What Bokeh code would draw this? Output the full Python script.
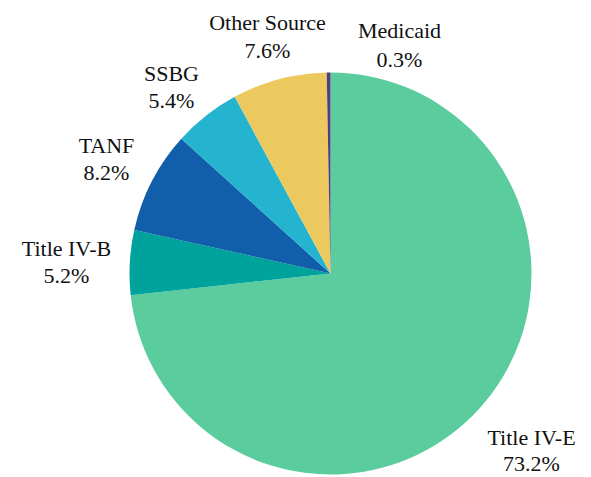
import math
from bokeh.plotting import figure
from bokeh.models import ColumnDataSource, LabelSet
from bokeh.embed import file_html
from bokeh.resources import INLINE
from bokeh.core.properties import value

# ---- data ----
categories = ["Title IV-E", "Title IV-B", "TANF", "SSBG", "Other Source", "Medicaid"]
shares = [73.2, 5.2, 8.2, 5.4, 7.6, 0.3]
colors = ["#5BCC9D", "#00A39B", "#115FAA", "#25B4D0", "#ECC95F", "#523C80"]

# ---- layout (page pixel coords) ----
W, H = 591, 477
CX_PAGE, CY_PAGE, R = 330, 273, 201
# label anchor: (x, name y, percent y) in page pixels
label_pos = {
    "Title IV-E": (531, 437, 463),
    "Title IV-B": (66, 248, 275),
    "TANF": (106, 145, 172),
    "SSBG": (171, 73, 100),
    "Other Source": (267, 22, 50),
    "Medicaid": (399, 30, 59),
}


def py(y):
    return H - y


total = sum(shares)
starts, ends = [], []
cum = 0.0
for s in shares:
    starts.append(math.pi / 2 - 2 * math.pi * cum / total)
    cum += s
    ends.append(math.pi / 2 - 2 * math.pi * cum / total)

src = ColumnDataSource(dict(cat=categories, share=shares, color=colors,
                            start=starts, end=ends))

p = figure(width=W, height=H, x_range=(0, W), y_range=(0, H),
           output_backend="svg", toolbar_location=None, min_border=0,
           x_axis_type=None, y_axis_type=None)
p.grid.visible = False
p.outline_line_color = None

p.wedge(x=CX_PAGE, y=py(CY_PAGE), radius=R, start_angle="start",
        end_angle="end", direction="clock", fill_color="color",
        line_color=None, source=src)

lx, ly, lt = [], [], []
for c, s in zip(categories, shares):
    x, y1, y2 = label_pos[c]
    lx += [x, x]
    ly += [py(y1), py(y2)]
    lt += [c, f"{s}%"]

lsrc = ColumnDataSource(dict(x=lx, y=ly, t=lt))
labels = LabelSet(x="x", y="y", text="t", source=lsrc,
                  text_align="center", text_baseline="middle",
                  text_font=value("Liberation Serif"), text_font_size=value("22px"),
                  text_color="#111111")
p.add_layout(labels)

open("out.html", "w").write(file_html(p, INLINE))
